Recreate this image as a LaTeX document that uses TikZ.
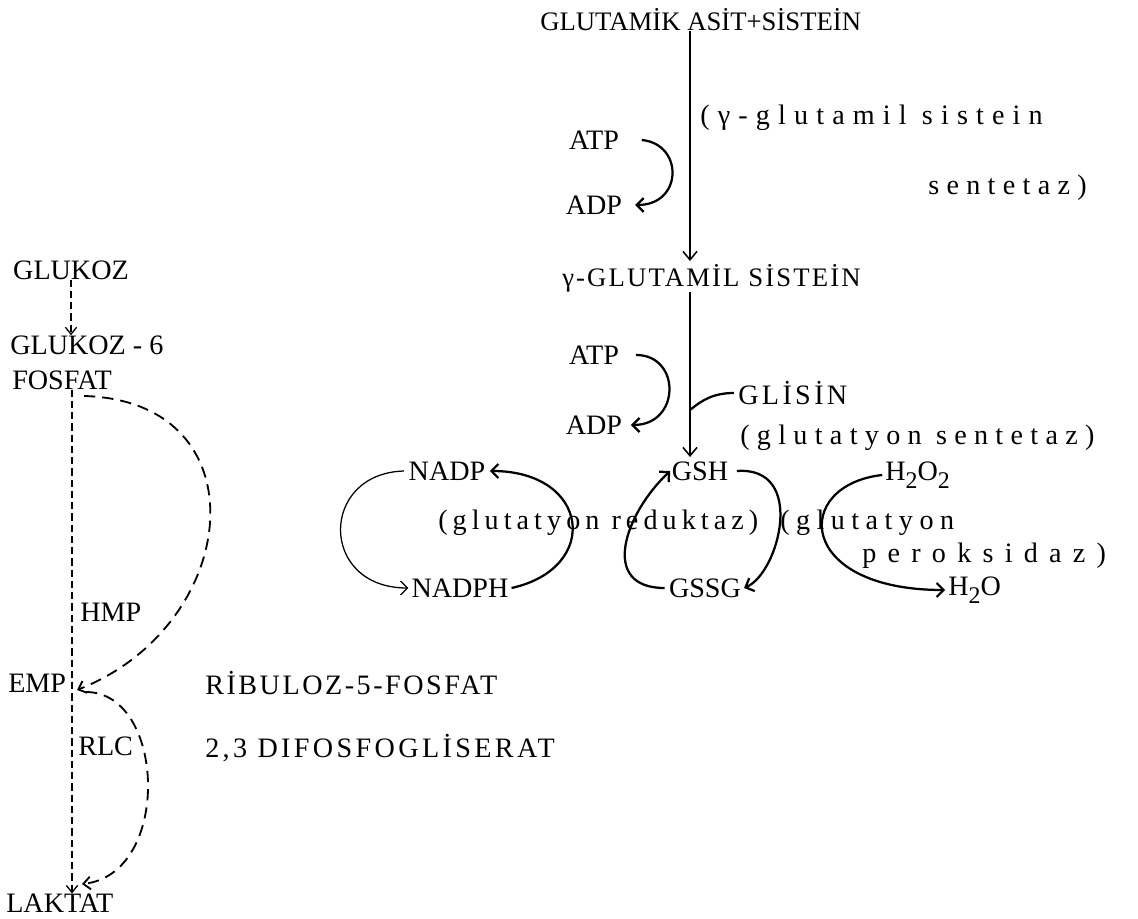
\documentclass[tikz,border=0pt]{standalone}
\usepackage{fontspec}
\setmainfont{Liberation Serif}
\usetikzlibrary{arrows.meta}
\newcommand\lowdigit[1]{\raisebox{-0.6ex}{\fontsize{17}{17}\selectfont #1}}

\begin{document}
\begin{tikzpicture}[x=0.025cm,y=-0.025cm,
    every node/.style={inner sep=0pt},
    lbl/.style={font=\fontsize{20}{22}\selectfont},
    enz/.style={anchor=west, font=\fontsize{20}{22}\selectfont\addfontfeature{LetterSpace=#1}},
    mainarr/.style={line width=1.1pt, -{Straight Barb[length=6pt,width=10pt]}},
    curarr/.style={line width=1.6pt, -{Straight Barb[length=5pt,width=10pt]}},
    thinarr/.style={line width=0.9pt, -{Straight Barb[length=5pt,width=10pt]}},
    dasharr/.style={line width=0.9pt, dash pattern=on 5pt off 3pt, -{Straight Barb[length=5pt,width=8pt]}},
    dasharc/.style={line width=1.3pt, dash pattern=on 8pt off 5pt, -{Straight Barb[length=5pt,width=9pt]}}]
  \useasboundingbox (0,0) rectangle (1138,919);
  \coordinate (spine) at (690,0);
  \coordinate (vx) at (72,0);

  \node[enz=0, font=\fontsize{19}{21}\selectfont] (gas) at (540,20) {GLUTAMİK ASİT+SİSTEİN};
  \node[enz=29] (e1a) at (700,118) {(γ-glutamil sistein};
  \node[enz=26] (e1b) at (928,188) {sentetaz)};
  \node[lbl] (atp1) at (594,140) {ATP};
  \node[lbl] (adp1) at (594,205) {ADP};
  \node[enz=8, font=\fontsize{19}{21}\selectfont\addfontfeature{LetterSpace=8}] (gcys) at (562,278) {γ-GLUTAMİL SİSTEİN};
  \node[lbl] (atp2) at (594,355) {ATP};
  \node[lbl] (adp2) at (594,425) {ADP};
  \node[enz=12] (gly) at (738,393) {GLİSİN};
  \node[enz=26] (e2) at (740,438) {(glutatyon sentetaz)};

  \node[lbl] (nadp) at (447,471) {NADP};
  \node[lbl] (gsh) at (700,471) {GSH};
  \node[lbl, anchor=west] (h2o2) at (885,475) {H\lowdigit{2}O\lowdigit{2}};
  \node[enz=18] (e3) at (438,523) {(glutatyon reduktaz)};
  \node[enz=23] (e4a) at (780,523) {(glutatyon};
  \node[enz=40] (e4b) at (862,556) {peroksidaz)};
  \node[lbl] (nadph) at (460,588) {NADPH};
  \node[lbl] (gssg) at (705,588) {GSSG};
  \node[lbl, anchor=west] (h2o) at (948,590) {H\lowdigit{2}O};

  \node[lbl] (glu) at (71,270) {GLUKOZ};
  \node[lbl, anchor=west] (g6) at (10,345) {GLUKOZ - 6};
  \node[lbl, anchor=west] (fos) at (12,380) {FOSFAT};
  \node[lbl, anchor=west] (hmp) at (80,612) {HMP};
  \node[lbl, anchor=west] (emp) at (8,683) {EMP};
  \node[enz=9] (rib) at (205,683) {RİBULOZ-5-FOSFAT};
  \node[lbl, anchor=west] (rlc) at (78,746) {RLC};
  \node[enz=12] (dpg) at (205,748) {2,3 DIFOSFOGLİSERAT};
  \node[lbl, anchor=west] (lak) at (6,903) {LAKTAT};

  \draw[mainarr] (gas.south -| spine) -- ([yshift=2pt]gcys.north -| spine);
  \draw[mainarr] (gcys.south -| spine) -- ([yshift=3pt]gsh.north -| spine);
  \draw[curarr] ([xshift=16pt]atp1.east) .. controls +(42,4) and +(48,0) .. ([xshift=9pt]adp1.east);
  \draw[curarr] ([xshift=12pt]atp2.east) .. controls +(45,0) and +(50,0) .. ([xshift=6pt]adp2.east);
  \coordinate (jn) at (690,410);
  \draw[line width=1.6pt] ([xshift=-3pt]gly.west) .. controls +(-20,0) and +(12,-10) .. (jn);

  \draw[thinarr] ([xshift=-3pt]nadp.west) .. controls +(-85,2) and +(-90,0) .. ([xshift=-2pt]nadph.west);
  \draw[curarr] ([xshift=2pt]nadph.east) .. controls +(90,-20) and +(100,0) .. ([xshift=3pt]nadp.east);
  \draw[curarr] ([xshift=-3pt]gssg.west) .. controls +(-66,0) and +(-45,42) .. ([xshift=-1pt]gsh.west);
  \draw[curarr] ([xshift=6pt]gsh.east) .. controls +(70,-5) and +(35,-15) .. ([xshift=2pt]gssg.east);
  \draw[curarr] ([xshift=-2pt]h2o2.west) .. controls +(-90,10) and +(-150,0) .. ([xshift=-2pt]h2o.west);

  \coordinate (hmpout) at (84,396);
  \coordinate (hmpin) at (77,690);
  \coordinate (rlcout) at (86,692);
  \coordinate (rlcin) at (82,884);
  \draw[dasharr] (glu.south) -- (g6.north -| glu.south);
  \draw[dasharr] (fos.south -| vx) -- (lak.north -| vx);
  \draw[dasharc] (hmpout) .. controls +(180,5) and +(165,-65) .. (hmpin);
  \draw[dasharc] (rlcout) .. controls +(80,0) and +(90,-10) .. (rlcin);
\end{tikzpicture}
\end{document}
